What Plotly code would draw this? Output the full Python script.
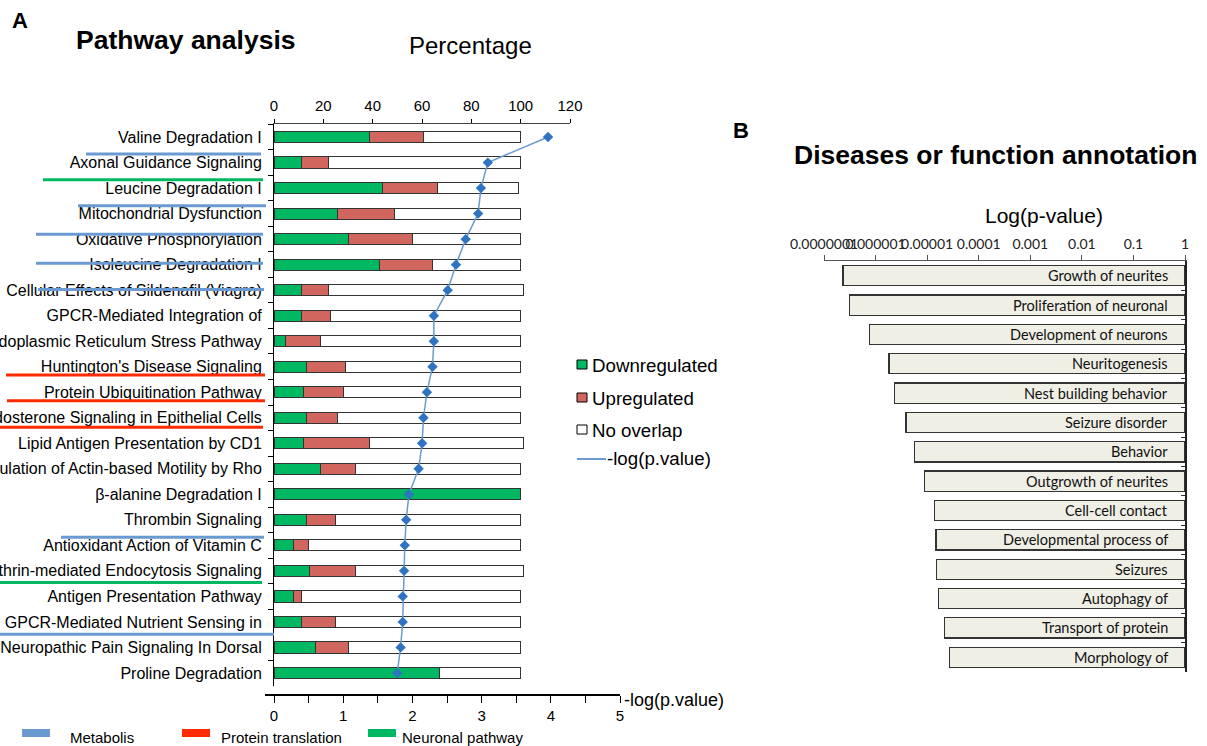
import plotly.graph_objects as go

W, H = 1207, 746

# ---------------- Panel A data ----------------
pathways = [
    "Valine Degradation I", "Axonal Guidance Signaling", "Leucine Degradation I",
    "Mitochondrial Dysfunction", "Oxidative Phosphorylation", "Isoleucine Degradation I",
    "Cellular Effects of Sildenafil (Viagra)", "GPCR-Mediated Integration of",
    "Endoplasmic Reticulum Stress Pathway", "Huntington's Disease Signaling",
    "Protein Ubiquitination Pathway", "Aldosterone Signaling in Epithelial Cells",
    "Lipid Antigen Presentation by CD1", "Regulation of Actin-based Motility by Rho",
    "β-alanine Degradation I", "Thrombin Signaling", "Antioxidant Action of Vitamin C",
    "Clathrin-mediated Endocytosis Signaling", "Antigen Presentation Pathway",
    "GPCR-Mediated Nutrient Sensing in", "Neuropathic Pain Signaling In Dorsal",
    "Proline Degradation",
]
downregulated = [38.9, 11.0, 44.1, 25.9, 30.0, 42.9, 11.0, 11.0, 4.8, 13.0, 11.9, 13.0,
                 11.9, 18.9, 100.0, 13.0, 8.0, 14.2, 8.1, 11.0, 17.0, 67.1]
upregulated = [21.9, 11.1, 22.2, 23.0, 26.0, 21.2, 11.0, 12.1, 14.1, 16.1, 16.1, 12.9,
               27.0, 14.1, 0.0, 11.9, 6.1, 18.8, 2.9, 14.1, 13.4, 0.0]
no_overlap = [39.2, 77.9, 32.8, 51.1, 44.0, 35.9, 79.0, 76.9, 81.1, 70.9, 72.0, 74.1,
              62.1, 67.0, 0.0, 75.1, 85.9, 68.0, 89.0, 74.9, 69.6, 32.9]
neg_log_p = [3.96, 3.09, 2.99, 2.95, 2.77, 2.63, 2.51, 2.31, 2.31, 2.29, 2.21, 2.16,
             2.14, 2.09, 1.95, 1.91, 1.89, 1.88, 1.86, 1.86, 1.83, 1.78]

# category underlines: position on the category axis, group, left start / right end (px)
underline_pos = [0.66, 1.67, 2.69, 3.81, 4.95, 5.97, 9.32, 10.33, 11.37, 15.68, 17.46,
                 19.48, 21.72]
underline_groups = ["Metabolis", "Neuronal pathway", "Metabolis", "Metabolis", "Metabolis",
                    "Metabolis", "Protein translation", "Protein translation",
                    "Protein translation", "Metabolis", "Neuronal pathway", "Metabolis",
                    "Metabolis"]
underline_start = [86, 43, 78, 36, 36, 38, 6, 7, 0, 61, 0, 0, 79]
underline_end = [261, 263, 266, 263, 263, 264, 265, 265, 263, 264, 262, 274, 265]
group_names = ["Metabolis", "Protein translation", "Neuronal pathway"]
group_colors = {"Metabolis": "#6A9AD0", "Protein translation": "#FF2A00",
                "Neuronal pathway": "#00B861"}

# ---------------- Panel B data ----------------
diseases = ["Growth of neurites", "Proliferation of neuronal", "Development of neurons",
            "Neuritogenesis", "Nest building behavior", "Seizure disorder", "Behavior",
            "Outgrowth of neurites", "Cell-cell contact", "Developmental process of",
            "Seizures", "Autophagy of", "Transport of protein", "Morphology of"]
log_p = [-6.63, -6.50, -6.125, -5.74, -5.64, -5.41, -5.24, -5.05, -4.86, -4.83, -4.82,
         -4.78, -4.67, -4.57]
log_ticks = [-7, -6, -5, -4, -3, -2, -1, 0]
log_tick_text = ["0.0000001", "0.000001", "0.00001", "0.0001", "0.001", "0.01", "0.1", "1"]

GREEN = "#00B861"
RED = "#D0665E"
EDGE = "#333333"
LINEBLUE = "#6A9AD0"
ARIAL = "Liberation Sans, Arial, sans-serif"
CAL = "Lato, Noto Sans, sans-serif"


def px(x):
    return x / W


def py(y):
    return 1 - y / H


fig = go.Figure()

# stacked bars (top percentage axis = x)
bar_series = [("Downregulated", downregulated, GREEN),
              ("Upregulated", upregulated, RED),
              ("No overlap", no_overlap, "white")]
for name, vals, col in bar_series:
    fig.add_trace(go.Bar(
        y=pathways, x=vals, orientation="h", name=name, xaxis="x", yaxis="y",
        marker=dict(color=col, line=dict(color=EDGE, width=1)), width=0.44,
        showlegend=False,
    ))

# -log(p) line (bottom axis = x2), drawn on top of the bars
fig.add_trace(go.Scatter(
    y=pathways, x=neg_log_p, mode="lines+markers", xaxis="x2", yaxis="y",
    name="-log(p.value)", line=dict(color=LINEBLUE, width=1.5),
    marker=dict(symbol="diamond", size=8, color="#2F74C0"),
    showlegend=False, cliponaxis=False,
))

# Panel B bars
fig.add_trace(go.Bar(
    y=diseases, x=log_p, orientation="h", xaxis="x3", yaxis="y2",
    marker=dict(color="#EFEFE6", line=dict(color=EDGE, width=1.2)), width=0.69,
    showlegend=False,
))

annotations = [
    dict(text="<b>A</b>", x=px(20), y=py(20), font=dict(size=22, family=ARIAL)),
    dict(text="<b>Pathway analysis</b>", x=px(185), y=py(40), font=dict(size=26.5, family=ARIAL)),
    dict(text="Percentage", x=px(470), y=py(45), font=dict(size=24, family=ARIAL)),
    dict(text="-log(p.value)", x=px(674), y=py(700), font=dict(size=18, family=ARIAL)),
    dict(text="<b>B</b>", x=px(741), y=py(130), font=dict(size=22, family=ARIAL)),
    dict(text="<b>Diseases or function annotation</b>", x=px(995), y=py(155),
         font=dict(size=26.5, family=ARIAL)),
    dict(text="Log(p-value)", x=px(1044), y=py(215), font=dict(size=21, family=ARIAL)),
]
for a in annotations:
    a.update(xref="paper", yref="paper", showarrow=False, xanchor="center", yanchor="middle",
             font=dict(color="black", **a["font"]))

# legend of panel A (bars + line)
legend_rows = [("Downregulated", GREEN, 365), ("Upregulated", RED, 398),
               ("No overlap", "white", 430)]
shapes = []
for name, col, yc in legend_rows:
    shapes.append(dict(type="rect", xref="paper", yref="paper", x0=px(577), x1=px(587),
                       y0=py(yc - 5), y1=py(yc + 4), fillcolor=col,
                       line=dict(color="black", width=1)))
    annotations.append(dict(text=name, x=px(590), y=py(yc), xref="paper", yref="paper",
                            showarrow=False, xanchor="left", yanchor="middle",
                            font=dict(size=18.7, family=ARIAL, color="black")))
shapes.append(dict(type="line", xref="paper", yref="paper", x0=px(577), x1=px(606),
                   y0=py(459), y1=py(459), line=dict(color=LINEBLUE, width=2)))
annotations.append(dict(text="-log(p.value)", x=px(605), y=py(458), xref="paper",
                        yref="paper", showarrow=False, xanchor="left", yanchor="middle",
                        font=dict(size=18.7, family=ARIAL, color="black")))

# bottom legend of the category groups
group_legend_x = {"Metabolis": (22, 68), "Protein translation": (182, 219),
                  "Neuronal pathway": (368, 400)}
for g in group_names:
    sx, tx = group_legend_x[g]
    shapes.append(dict(type="rect", xref="paper", yref="paper", x0=px(sx), x1=px(sx + 28),
                       y0=py(737), y1=py(729), fillcolor=group_colors[g],
                       line=dict(width=0)))
    annotations.append(dict(text=g, x=px(tx), y=py(737), xref="paper", yref="paper",
                            showarrow=False, xanchor="left", yanchor="middle",
                            font=dict(size=15, family=ARIAL, color="black")))

# labels inside panel B bars
for d in diseases:
    annotations.append(dict(
        text=d, x=-0.3, y=d, xref="x3", yref="y2", showarrow=False, xanchor="right",
        yanchor="middle", font=dict(size=14.5, family=CAL, color="#111"),
    ))

# underline shapes for category groups in panel A
for pos, g, s, e in zip(underline_pos, underline_groups, underline_start, underline_end):
    shapes.append(dict(type="line", xref="paper", yref="y", x0=px(s), x1=px(e),
                       y0=pos, y1=pos, line=dict(color=group_colors[g], width=3)))

n = len(pathways)
fig.update_layout(
    width=W, height=H, margin=dict(l=0, r=0, t=0, b=0, autoexpand=False),
    paper_bgcolor="white", plot_bgcolor="rgba(0,0,0,0)",
    barmode="stack", showlegend=False,
    font=dict(family=ARIAL, color="black"),
    annotations=annotations, shapes=shapes,
    xaxis=dict(domain=[px(274), px(570)], range=[0, 120], anchor="y", side="top",
               dtick=20, ticks="outside", ticklen=4, tickcolor="black", showline=True,
               linecolor="#444", linewidth=1, showgrid=False, zeroline=False,
               tickfont=dict(size=15, family=ARIAL), tickangle=0, automargin=False,
               ticklabelstandoff=2),
    xaxis2=dict(domain=[px(265), px(620)], range=[-0.13, 5.0], anchor="free",
                position=py(695), side="bottom", tickvals=[i * 0.5 for i in range(11)],
                ticktext=["0", "", "1", "", "2", "", "3", "", "4", "", "5"],
                ticks="outside", ticklen=7, tickcolor="black", showline=True,
                linecolor="black", linewidth=1.5, showgrid=False, zeroline=False,
                tickfont=dict(size=15, family=ARIAL), tickangle=0, automargin=False),
    yaxis=dict(domain=[py(685.7), py(124.3)], anchor="x", range=[n - 0.5, -0.5],
               type="category", tickson="boundaries", ticks="outside", ticklen=5,
               tickcolor="black", showline=True, linecolor="black", linewidth=1,
               showgrid=False, tickfont=dict(size=16, family=ARIAL),
               ticklabelstandoff=8, automargin=False),
    xaxis3=dict(domain=[px(824), px(1185)], range=[-7, 0], anchor="y2", side="top",
                tickvals=log_ticks, ticktext=log_tick_text, ticks="outside", ticklen=5,
                tickcolor="#555", showline=True, linecolor="#555", linewidth=1,
                showgrid=False, zeroline=False, tickangle=0, automargin=False,
                tickfont=dict(size=14, family=CAL, color="#222")),
    yaxis2=dict(domain=[py(672), py(261)], anchor="x3", side="right",
                range=[len(diseases) - 0.5, -0.5],
                type="category", tickson="boundaries", ticks="inside", ticklen=4,
                tickcolor="#333", showline=True, linecolor="#222", linewidth=1.5,
                showgrid=False, showticklabels=False, automargin=False),
)

fig.write_html("out.html", config={"displayModeBar": False},
               post_script="document.body.style.margin='0px';")
